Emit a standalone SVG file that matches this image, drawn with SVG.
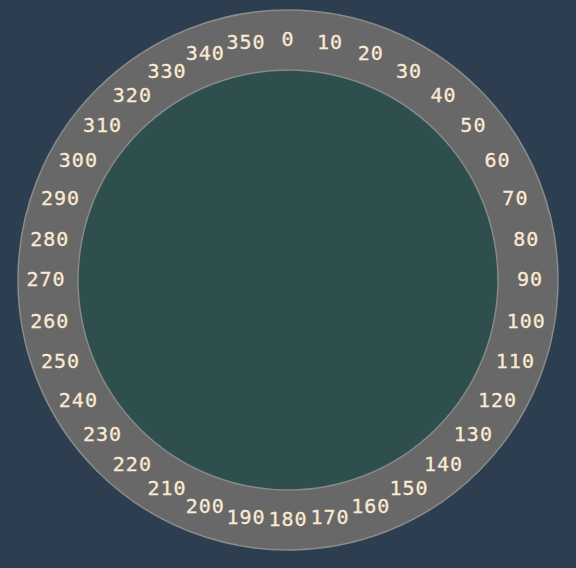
<svg xmlns="http://www.w3.org/2000/svg" width="576" height="568" viewBox="0 0 576 568">
<style>
.lbl{font-family:"DejaVu Sans Mono","Liberation Mono",monospace;font-size:20px;letter-spacing:1px;fill:#fbe9d2;stroke:#fbe9d2;stroke-width:0.3;text-anchor:middle;dominant-baseline:central}
</style>
<rect width="576" height="568" fill="#2c3e50"/>
<g id="dial">
<circle cx="288" cy="280" r="270" fill="#686868" stroke="#8a8a8a" stroke-width="1.5"/>
<circle cx="288" cy="280" r="210" fill="#2f4f4f" stroke="#888" stroke-width="1.5"/>
</g>
<g id="labels" transform="translate(0,-1.5)">
<text class="lbl" x="288.0" y="40.0">0</text>
<text class="lbl" x="330.0" y="43.7">10</text>
<text class="lbl" x="370.8" y="54.6">20</text>
<text class="lbl" x="409.0" y="72.4">30</text>
<text class="lbl" x="443.6" y="96.6">40</text>
<text class="lbl" x="473.4" y="126.4">50</text>
<text class="lbl" x="497.6" y="161.0">60</text>
<text class="lbl" x="515.4" y="199.2">70</text>
<text class="lbl" x="526.3" y="240.0">80</text>
<text class="lbl" x="530.0" y="280.0">90</text>
<text class="lbl" x="526.3" y="322.0">100</text>
<text class="lbl" x="515.4" y="362.8">110</text>
<text class="lbl" x="497.6" y="401.0">120</text>
<text class="lbl" x="473.4" y="435.6">130</text>
<text class="lbl" x="443.6" y="465.4">140</text>
<text class="lbl" x="409.0" y="489.6">150</text>
<text class="lbl" x="370.8" y="507.4">160</text>
<text class="lbl" x="330.0" y="518.3">170</text>
<text class="lbl" x="288.0" y="520.0">180</text>
<text class="lbl" x="246.0" y="518.3">190</text>
<text class="lbl" x="205.2" y="507.4">200</text>
<text class="lbl" x="167.0" y="489.6">210</text>
<text class="lbl" x="132.4" y="465.4">220</text>
<text class="lbl" x="102.6" y="435.6">230</text>
<text class="lbl" x="78.4" y="401.0">240</text>
<text class="lbl" x="60.6" y="362.8">250</text>
<text class="lbl" x="49.7" y="322.0">260</text>
<text class="lbl" x="46.0" y="280.0">270</text>
<text class="lbl" x="49.7" y="240.0">280</text>
<text class="lbl" x="60.6" y="199.2">290</text>
<text class="lbl" x="78.4" y="161.0">300</text>
<text class="lbl" x="102.6" y="126.4">310</text>
<text class="lbl" x="132.4" y="96.6">320</text>
<text class="lbl" x="167.0" y="72.4">330</text>
<text class="lbl" x="205.2" y="54.6">340</text>
<text class="lbl" x="246.0" y="43.7">350</text>
</g>
</svg>
